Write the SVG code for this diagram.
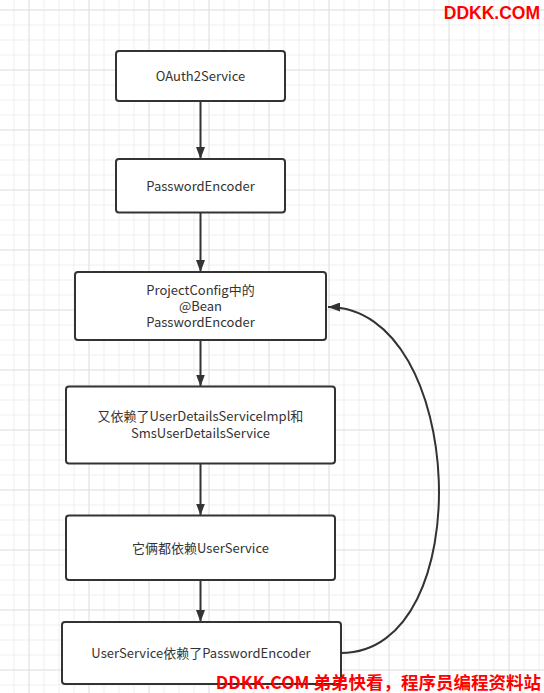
<svg xmlns="http://www.w3.org/2000/svg" width="544" height="693" viewBox="0 0 544 693">
<defs>
<pattern id="minor" x="13.5" y="9.5" width="15" height="15" patternUnits="userSpaceOnUse">
<path d="M0.5,0 V15 M0,0.5 H15" fill="none" stroke="#efefef" stroke-width="1"/>
</pattern>
<pattern id="major" x="28.5" y="9.5" width="60" height="60" patternUnits="userSpaceOnUse">
<path d="M0.5,0 V60 M0,0.5 H60" fill="none" stroke="#e2e2e2" stroke-width="1"/>
</pattern>
<marker id="arr" viewBox="0 0 12 9" refX="12" refY="4.5" markerWidth="12" markerHeight="9" markerUnits="userSpaceOnUse" orient="auto">
<path d="M0,0 L12,4.5 L0,9 Z" fill="#333"/>
</marker>
<style>
.box{fill:#fff;stroke:#333;stroke-width:2}
.t{font-family:"Microsoft YaHei","Noto Sans CJK SC","Noto Sans",sans-serif;font-size:13px;fill:#333;text-anchor:middle}
.c{fill:none;stroke:#333;stroke-width:2}
.wm{font-family:"Noto Sans CJK SC","Liberation Sans",sans-serif;font-weight:bold;fill:#ff0000}
</style>
</defs>
<rect width="544" height="693" fill="#fff"/>
<rect width="544" height="693" fill="url(#minor)"/>
<rect width="544" height="693" fill="url(#major)"/>

<g id="connectors">
<path class="c" d="M200.5,101 V159" marker-end="url(#arr)"/>
<path class="c" d="M200.5,212.5 V272" marker-end="url(#arr)"/>
<path class="c" d="M200.5,340 V386.5" marker-end="url(#arr)"/>
<path class="c" d="M200.5,463.5 V515.5" marker-end="url(#arr)"/>
<path class="c" d="M200.5,580 V622" marker-end="url(#arr)"/>
<path class="c" d="M341,653 C480,653 467,307 328,307" marker-end="url(#arr)"/>
</g>

<g id="n1">
<rect class="box" x="116" y="51" width="169" height="50" rx="3"/>
<text class="t" x="200.5" y="81">OAuth2Service</text>
</g>
<g id="n2">
<rect class="box" x="116" y="159" width="169" height="53.5" rx="3"/>
<text class="t" x="200.5" y="191">PasswordEncoder</text>
</g>
<g id="n3">
<rect class="box" x="75" y="272" width="251" height="68" rx="3"/>
<text class="t" x="200.5" y="295">ProjectConfig中的<tspan x="200.5" dy="16">@Bean</tspan><tspan x="200.5" dy="16">PasswordEncoder</tspan></text>
</g>
<g id="n4">
<rect class="box" x="66" y="386.5" width="269" height="77" rx="3"/>
<text class="t" x="200.5" y="421">又依赖了UserDetailsServiceImpl和<tspan x="200.5" dy="17">SmsUserDetailsService</tspan></text>
</g>
<g id="n5">
<rect class="box" x="66" y="515.5" width="269" height="64.5" rx="3"/>
<text class="t" x="200.5" y="553">它俩都依赖UserService</text>
</g>
<g id="n6">
<rect class="box" x="62" y="622" width="279" height="62" rx="3"/>
<text class="t" x="201" y="658">UserService依赖了PasswordEncoder</text>
</g>

<text x="540" y="19" font-family="'Liberation Sans',Arial,sans-serif" font-weight="bold" fill="#ff0000" font-size="17.5" text-anchor="end">DDKK.COM</text>
<text class="wm" x="541" y="689" font-size="17.5" text-anchor="end">DDKK.COM 弟弟快看，程序员编程资料站</text>
</svg>
